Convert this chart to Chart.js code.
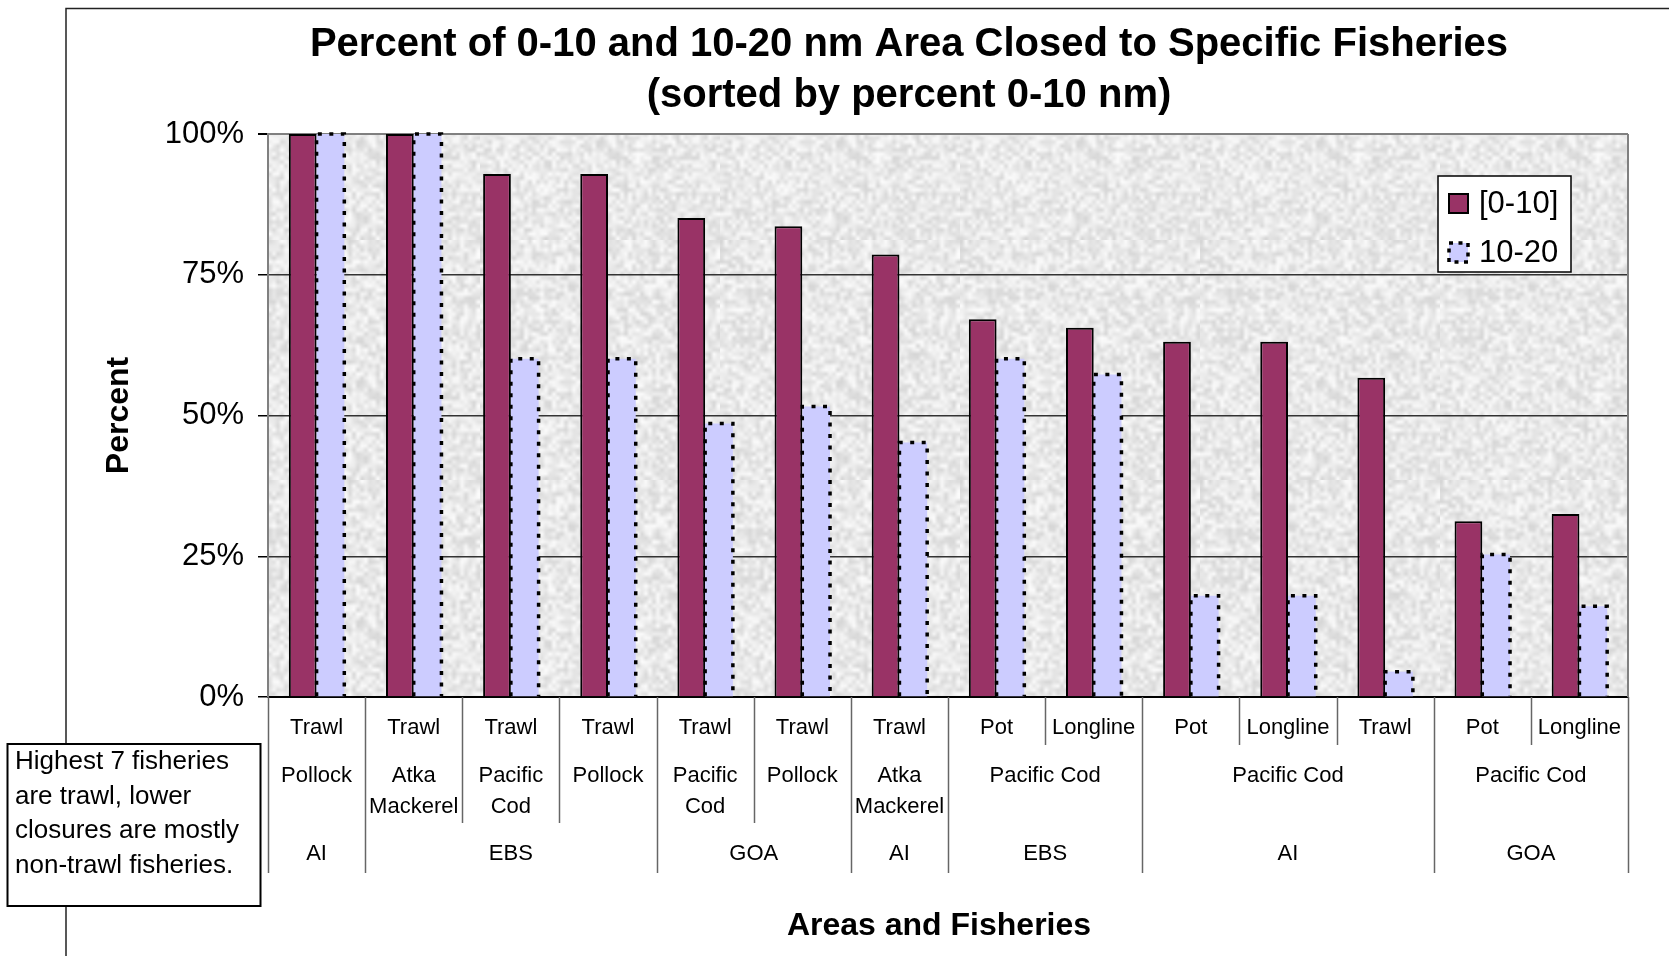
<!DOCTYPE html>
<html>
<head>
<meta charset="utf-8">
<script src="https://cdn.jsdelivr.net/npm/chart.js@4.4.1/dist/chart.umd.min.js"></script>
<style>
  html, body { margin: 0; padding: 0; background: #fff; }
  #wrap { width: 1669px; height: 956px; position: relative; }
</style>
</head>
<body>
<div id="wrap"><canvas id="myChart"></canvas></div>
<script>
// donnees
const engins = ['Trawl', 'Trawl', 'Trawl', 'Trawl', 'Trawl', 'Trawl', 'Trawl',
                'Pot', 'Longline', 'Pot', 'Longline', 'Trawl', 'Pot', 'Longline'];
const especes = [['Pollock'], ['Atka', 'Mackerel'], ['Pacific', 'Cod'], ['Pollock'],
                 ['Pacific', 'Cod'], ['Pollock'], ['Atka', 'Mackerel'],
                 ['Pacific Cod'], ['Pacific Cod'], ['Pacific Cod']];
const especesSpan = [1, 1, 1, 1, 1, 1, 1, 2, 3, 2];
const zones = ['AI', 'EBS', 'GOA', 'AI', 'EBS', 'AI', 'GOA'];
const zonesSpan = [1, 3, 2, 1, 2, 3, 2];

const serie0_10 = [100, 100, 92.9, 92.9, 85.1, 83.6, 78.6, 67.1, 65.6, 63.1, 63.1, 56.7, 31.2, 32.5];
const serie10_20 = [100, 100, 60.1, 60.1, 48.6, 51.6, 45.2, 60.1, 57.3, 18.0, 18.0, 4.5, 25.3, 16.1];
const yTicks = [0, 25, 50, 75, 100];

const titre = ['Percent of 0-10 and 10-20 nm Area Closed to Specific Fisheries',
               '(sorted by percent 0-10 nm)'];
const note = ['Highest 7 fisheries', 'are trawl, lower', 'closures are mostly', 'non-trawl fisheries.'];

const police = '"Liberation Sans", Arial, sans-serif';
const violet = '#993366';
const lavande = '#CCCCFF';

// texture grise du fond (bruit deterministe)
function texture() {
    const petit = document.createElement('canvas');
    petit.width = 60; petit.height = 60;
    const p = petit.getContext('2d');
    for (let y = 0; y < 60; y++) {
        for (let x = 0; x < 60; x++) {
            const n = Math.sin(x * 12.9898 + y * 78.233) * 43758.5453;
            const f = n - Math.floor(n);
            const v = Math.round(214 + f * 38);
            p.fillStyle = `rgb(${v},${v},${v})`;
            p.fillRect(x, y, 1, 1);
        }
    }
    const grand = document.createElement('canvas');
    grand.width = 240; grand.height = 240;
    const g = grand.getContext('2d');
    g.imageSmoothingEnabled = true;
    g.drawImage(petit, 0, 0, 240, 240);
    return grand;
}
const motif = texture();

// trace de la ligne pointillee autour d'une barre
function contourPointille(ctx, gauche, droite, haut, bas) {
    ctx.save();
    ctx.strokeStyle = '#000';
    ctx.lineWidth = 3.5;
    ctx.setLineDash([4, 7.5]);
    ctx.beginPath();
    ctx.moveTo(gauche, bas);
    ctx.lineTo(gauche, haut);
    ctx.lineTo(droite, haut);
    ctx.lineTo(droite, bas);
    ctx.stroke();
    ctx.restore();
}

const decor = {
    id: 'decor',
    beforeDraw(chart) {
        const ctx = chart.ctx;
        const a = chart.chartArea;
        ctx.save();
        ctx.fillStyle = '#fff';
        ctx.fillRect(0, 0, chart.width, chart.height);
        ctx.fillStyle = ctx.createPattern(motif, 'repeat');
        ctx.fillRect(a.left, a.top, a.right - a.left, a.bottom - a.top);
        ctx.restore();
    },
    afterDatasetsDraw(chart) {
        const ctx = chart.ctx;
        const meta = chart.getDatasetMeta(1);
        meta.data.forEach(el => {
            contourPointille(ctx, el.x - el.width / 2, el.x + el.width / 2, el.y, el.base);
        });
    },
    afterDraw(chart) {
        const ctx = chart.ctx;
        const a = chart.chartArea;
        const x = chart.scales.x;
        const n = engins.length;
        ctx.save();

        // bord droit de la zone de trace
        ctx.strokeStyle = '#808080';
        ctx.lineWidth = 2;
        ctx.beginPath();
        ctx.moveTo(a.right, a.top);
        ctx.lineTo(a.right, a.bottom);
        ctx.stroke();

        // separateurs des categories
        const finEspece = new Set();
        let c = 0;
        especesSpan.forEach(s => { c += s; finEspece.add(c); });
        const finZone = new Set([0]);
        c = 0;
        zonesSpan.forEach(s => { c += s; finZone.add(c); });
        ctx.strokeStyle = '#666';
        ctx.lineWidth = 1.5;
        for (let k = 0; k <= n; k++) {
            const px = Math.round(x.getPixelForValue(k - 0.5)) + 0.5;
            let fin = 745;
            if (finZone.has(k)) fin = 873;
            else if (finEspece.has(k)) fin = 823;
            ctx.beginPath();
            ctx.moveTo(px, a.bottom);
            ctx.lineTo(px, fin);
            ctx.stroke();
        }

        // etiquettes des categories
        ctx.fillStyle = '#000';
        ctx.textAlign = 'center';
        ctx.textBaseline = 'middle';
        ctx.font = '22px ' + police;
        engins.forEach((e, i) => {
            ctx.fillText(e, x.getPixelForValue(i), 728);
        });
        c = 0;
        especes.forEach((lignes, i) => {
            const milieu = x.getPixelForValue(c + (especesSpan[i] - 1) / 2);
            lignes.forEach((l, j) => ctx.fillText(l, milieu, 776 + j * 31));
            c += especesSpan[i];
        });
        c = 0;
        zones.forEach((z, i) => {
            const milieu = x.getPixelForValue(c + (zonesSpan[i] - 1) / 2);
            ctx.fillText(z, milieu, 854);
            c += zonesSpan[i];
        });

        // titres
        ctx.font = 'bold 40px ' + police;
        ctx.fillText(titre[0], 909, 45);
        ctx.fillText(titre[1], 909, 96);
        ctx.font = 'bold 32px ' + police;
        ctx.fillText('Areas and Fisheries', 939, 926);

        // legende
        ctx.fillStyle = '#fff';
        ctx.fillRect(1438, 176, 133, 96);
        ctx.strokeStyle = '#000';
        ctx.lineWidth = 1.5;
        ctx.strokeRect(1438, 176, 133, 96);
        ctx.fillStyle = violet;
        ctx.fillRect(1449, 194, 19, 19);
        ctx.lineWidth = 2;
        ctx.strokeRect(1449, 194, 19, 19);
        ctx.fillStyle = lavande;
        ctx.fillRect(1449, 243, 19, 19);
        ctx.save();
        ctx.lineWidth = 3.5;
        ctx.setLineDash([4, 5.5]);
        ctx.strokeRect(1449, 243, 19, 19);
        ctx.restore();
        ctx.fillStyle = '#000';
        ctx.textAlign = 'left';
        ctx.font = '31px ' + police;
        ctx.fillText(chart.data.datasets[0].label, 1479, 204);
        ctx.fillText(chart.data.datasets[1].label, 1479, 253);

        // cadre du graphique
        ctx.strokeStyle = '#222';
        ctx.lineWidth = 1.5;
        ctx.beginPath();
        ctx.moveTo(66, chart.height);
        ctx.lineTo(66, 8.5);
        ctx.lineTo(chart.width, 8.5);
        ctx.stroke();

        // encadre de commentaire
        ctx.fillStyle = '#fff';
        ctx.fillRect(7.5, 744, 253, 162);
        ctx.strokeStyle = '#000';
        ctx.lineWidth = 2;
        ctx.strokeRect(7.5, 744, 253, 162);
        ctx.fillStyle = '#000';
        ctx.font = '26px ' + police;
        note.forEach((l, i) => ctx.fillText(l, 15, 762 + i * 34.5));

        ctx.restore();
    }
};

const ctx = document.getElementById('myChart').getContext('2d');
const myChart = new Chart(ctx, {
    type: 'bar',
    data: {
        labels: engins,
        datasets: [{
            label: '[0-10]',
            data: serie0_10,
            backgroundColor: violet,
            borderColor: '#000',
            borderWidth: 2,
            borderSkipped: 'bottom'
        }, {
            label: '10-20',
            data: serie10_20,
            backgroundColor: lavande,
            borderWidth: 0
        }]
    },
    options: {
        responsive: true,
        maintainAspectRatio: false,
        animation: false,
        layout: { padding: { top: 134, right: 41, left: 0, bottom: 0 } },
        plugins: {
            legend: { display: false },
            title: { display: false },
            tooltip: { enabled: false }
        },
        datasets: {
            bar: { categoryPercentage: 0.571, barPercentage: 1.0 }
        },
        scales: {
            x: {
                ticks: { display: false },
                grid: { display: false },
                border: { color: '#000', width: 2 },
                afterFit: s => { s.height = 259; }
            },
            y: {
                min: 0,
                max: 100,
                afterBuildTicks: s => { s.ticks = yTicks.map(v => ({ value: v })); },
                ticks: {
                    callback: v => v + '%',
                    color: '#000',
                    padding: 14,
                    font: { size: 31, family: police }
                },
                grid: {
                    color: c => c.tick.value === 100 ? '#808080' : (c.tick.value === 0 ? 'rgba(0,0,0,0)' : '#333'),
                    lineWidth: c => c.tick.value === 100 ? 2 : 1.5,
                    tickColor: '#000',
                    tickLength: 10
                },
                border: { color: '#808080', width: 2 },
                title: {
                    display: true,
                    text: 'Percent',
                    color: '#000',
                    font: { size: 32, weight: 'bold', family: police },
                    padding: { top: 100, bottom: 0 }
                },
                afterFit: s => { s.width = 268; }
            }
        }
    },
    plugins: [decor]
});
</script>
</body>
</html>
